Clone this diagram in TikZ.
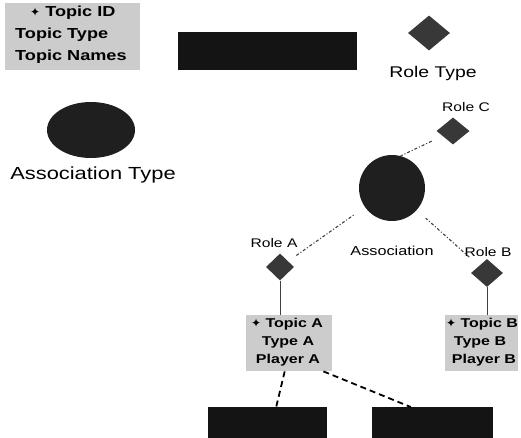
\documentclass[tikz,border=0pt]{standalone}
\usepackage{fontspec}
\setmainfont{Liberation Sans}[FakeStretch=1.25]
\newfontfamily\symfont{DejaVu Sans}
\usetikzlibrary{shapes.geometric}

\newcommand{\fs}[1]{\fontsize{#1}{#1}\selectfont}
\newcommand{\idmark}{{\symfont\fontsize{12}{12}\selectfont ✦}}

\tikzset{
  darkbar/.style={rectangle, fill=black!92, draw=none, inner sep=0pt, anchor=north west},
  lightbox/.style={rectangle, fill=black!20, draw=none, inner sep=0pt, anchor=north west},
  blob/.style={fill=black!88, draw=none, inner sep=0pt},
  roleshape/.style={diamond, fill=black!78, draw=none, inner sep=0pt},
  lbl/.style={inner sep=0pt, anchor=base},
  lblw/.style={inner sep=0pt, anchor=base west},
  boxtext/.style={lbl, font=\bfseries\fs{12.8}},
  rolelink/.style={draw=black!75, line width=1.1pt, dash pattern=on 3pt off 2pt on 1pt off 2pt},
  playerlink/.style={draw=black, line width=1.8pt, dash pattern=on 6pt off 4pt},
  memberlink/.style={draw=black!75, line width=0.8pt},
}

\begin{document}
\begin{tikzpicture}[x=1pt, y=-1pt]
\useasboundingbox (0,0) rectangle (521,438);

% legend: topic box
\node[lightbox, minimum width=135pt, minimum height=67pt] (legendtopic) at (5,3) {};
\node[lblw, font=\bfseries\fs{14.5}] (legendid) at (30,17) {\idmark\ Topic ID};
\node[lblw, font=\bfseries\fs{14.5}] (legendtype) at (15,39) {Topic Type};
\node[lblw, font=\bfseries\fs{14.5}] (legendnames) at (15,61) {Topic Names};

% legend: plain bar
\node[darkbar, minimum width=179pt, minimum height=38pt] (legendbar) at (178,32) {};

% legend: role type
\node[roleshape, minimum width=42pt, minimum height=35pt] (legendrole) at (429,33) {};
\node[lbl, font=\fs{15.5}] (legendrolelbl) at (433,78) {Role Type};

% legend: association type
\node[blob, ellipse, minimum width=88pt, minimum height=56pt] (legendassoc) at (91,130) {};
\node[lbl, font=\fs{17.5}] (legendassoclbl) at (93,180) {Association Type};

% association and its roles
\node[blob, circle, minimum size=66pt] (assoc) at (392,188) {};
\node[lbl, font=\fs{13}] (assoclbl) at (392,255) {Association};

\node[roleshape, minimum width=33pt, minimum height=27pt] (roleC) at (453,131) {};
\node[lbl, font=\fs{12.5}] (roleClbl) at (466,112) {Role C};

\node[roleshape, minimum width=28pt, minimum height=27pt] (roleA) at (280,267) {};
\node[lbl, font=\fs{12.5}] (roleAlbl) at (274,247) {Role A};

\node[roleshape, minimum width=32pt, minimum height=28pt] (roleB) at (487,273) {};
\node[lbl, font=\fs{12.5}] (roleBlbl) at (488,256) {Role B};

% member topics
\node[lightbox, minimum width=86pt, minimum height=56pt] (topicA) at (246,315) {};
\node[boxtext] (topicAid) at (287,327) {\idmark\ Topic A};
\node[boxtext] (topicAtype) at (288,345) {Type A};
\node[boxtext] (topicAplayer) at (288,363) {Player A};

\node[lightbox, minimum width=73pt, minimum height=56pt] (topicB) at (445,315) {};
\node[boxtext] (topicBid) at (482,327) {\idmark\ Topic B};
\node[boxtext] (topicBtype) at (480,345) {Type B};
\node[boxtext] (topicBplayer) at (484,363) {Player B};

% players
\node[darkbar, minimum width=119pt, minimum height=31pt] (playerL) at (208,407) {};
\node[darkbar, minimum width=121pt, minimum height=31pt] (playerR) at (372,407) {};

% connectors
\draw[rolelink, shorten <=12pt] (roleC) -- (assoc.75);
\draw[rolelink, shorten <=10pt, shorten >=12pt] (roleA) -- (assoc);
\draw[rolelink, shorten <=13pt, shorten >=12pt] (roleB) -- (assoc);

\draw[memberlink] (roleA.south) -- (roleA.south |- topicA.north);
\draw[memberlink] (roleB.south) -- (roleB.south |- topicB.north);

\draw[playerlink] ([xshift=-4.5pt]topicA.south) -- ([xshift=8.5pt]playerL.north);
\draw[playerlink] ([xshift=-9pt]topicA.south east) -- ([xshift=-22pt]playerR.north);
\end{tikzpicture}
\end{document}
